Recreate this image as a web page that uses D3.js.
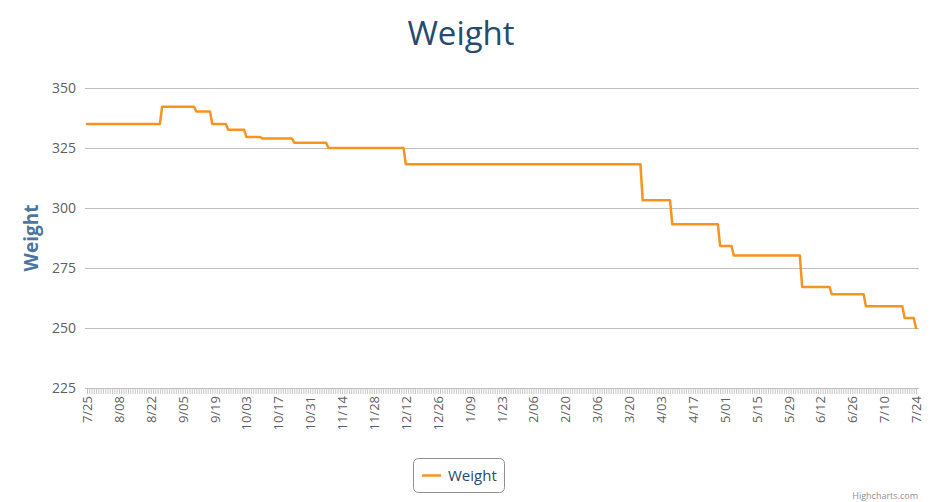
<!DOCTYPE html>
<html>
<head>
<meta charset="utf-8">
<script src="https://cdn.jsdelivr.net/npm/d3@7"></script>
<style>
  body { margin: 0; background: #fff; }
  text { font-family: "Open Sans", sans-serif; }
</style>
</head>
<body>
<svg id="chart" width="942" height="502"></svg>
<script>
// one reading per day, 7/25 .. 7/24
var weights = [
  335, 335, 335, 335, 335, 335, 335, 335, 335, 335,
  335, 335, 335, 335, 335, 335, 335, 335, 335, 335,
  335, 335, 335, 335, 335, 335, 335, 335, 335, 335,
  335, 335, 335,
  342.2, 342.2, 342.2, 342.2, 342.2, 342.2, 342.2, 342.2, 342.2, 342.2,
  342.2, 342.2, 342.2, 342.2, 342.2,
  340.2, 340.2, 340.2, 340.2, 340.2, 340.2, 340.2,
  335, 335, 335, 335, 335, 335, 335,
  332.6, 332.6, 332.6, 332.6, 332.6, 332.6, 332.6, 332.6,
  329.6, 329.6, 329.6, 329.6, 329.6, 329.6, 329.6,
  329, 329, 329, 329, 329, 329, 329, 329, 329, 329,
  329, 329, 329, 329,
  327.2, 327.2, 327.2, 327.2, 327.2, 327.2, 327.2, 327.2, 327.2, 327.2,
  327.2, 327.2, 327.2, 327.2, 327.2,
  325, 325, 325, 325, 325, 325, 325, 325, 325, 325,
  325, 325, 325, 325, 325, 325, 325, 325, 325, 325,
  325, 325, 325, 325, 325, 325, 325, 325, 325, 325,
  325, 325, 325, 325,
  318.2, 318.2, 318.2, 318.2, 318.2, 318.2, 318.2, 318.2, 318.2, 318.2,
  318.2, 318.2, 318.2, 318.2, 318.2, 318.2, 318.2, 318.2, 318.2, 318.2,
  318.2, 318.2, 318.2, 318.2, 318.2, 318.2, 318.2, 318.2, 318.2, 318.2,
  318.2, 318.2, 318.2, 318.2, 318.2, 318.2, 318.2, 318.2, 318.2, 318.2,
  318.2, 318.2, 318.2, 318.2, 318.2, 318.2, 318.2, 318.2, 318.2, 318.2,
  318.2, 318.2, 318.2, 318.2, 318.2, 318.2, 318.2, 318.2, 318.2, 318.2,
  318.2, 318.2, 318.2, 318.2, 318.2, 318.2, 318.2, 318.2, 318.2, 318.2,
  318.2, 318.2, 318.2, 318.2, 318.2, 318.2, 318.2, 318.2, 318.2, 318.2,
  318.2, 318.2, 318.2, 318.2, 318.2, 318.2, 318.2, 318.2, 318.2, 318.2,
  318.2, 318.2, 318.2, 318.2, 318.2, 318.2, 318.2, 318.2, 318.2, 318.2,
  318.2, 318.2, 318.2, 318.2,
  303.2, 303.2, 303.2, 303.2, 303.2, 303.2, 303.2, 303.2, 303.2, 303.2,
  303.2, 303.2, 303.2,
  293.2, 293.2, 293.2, 293.2, 293.2, 293.2, 293.2, 293.2, 293.2, 293.2,
  293.2, 293.2, 293.2, 293.2, 293.2, 293.2, 293.2, 293.2, 293.2, 293.2,
  293.2,
  284.2, 284.2, 284.2, 284.2, 284.2, 284.2,
  280.2, 280.2, 280.2, 280.2, 280.2, 280.2, 280.2, 280.2, 280.2, 280.2,
  280.2, 280.2, 280.2, 280.2, 280.2, 280.2, 280.2, 280.2, 280.2, 280.2,
  280.2, 280.2, 280.2, 280.2, 280.2, 280.2, 280.2, 280.2, 280.2, 280.2,
  267.1, 267.1, 267.1, 267.1, 267.1, 267.1, 267.1, 267.1, 267.1, 267.1,
  267.1, 267.1, 267.1,
  264.1, 264.1, 264.1, 264.1, 264.1, 264.1, 264.1, 264.1, 264.1, 264.1,
  264.1, 264.1, 264.1, 264.1, 264.1,
  259.1, 259.1, 259.1, 259.1, 259.1, 259.1, 259.1, 259.1, 259.1, 259.1,
  259.1, 259.1, 259.1, 259.1, 259.1, 259.1, 259.1,
  254.2, 254.2, 254.2, 254.2, 254.2,
  250
];

var tickLabels = [
  '7/25', '8/08', '8/22', '9/05', '9/19', '10/03', '10/17', '10/31', '11/14',
  '11/28', '12/12', '12/26', '1/09', '1/23', '2/06', '2/20', '3/06', '3/20',
  '4/03', '4/17', '5/01', '5/15', '5/29', '6/12', '6/26', '7/10', '7/24'
];
var tickEvery = 14;
var yTicks = [225, 250, 275, 300, 325, 350];
var seriesName = 'Weight';

var lineColor = '#f7941e';
var plotLeft = 85;
var plotRight = 919;

var svg = d3.select('#chart');

var x = d3.scaleLinear()
  .domain([0, weights.length - 1])
  .range([87, 916]);

var y = d3.scaleLinear()
  .domain([225, 350])
  .range([388, 88]);

// title
svg.append('text')
  .attr('x', 461)
  .attr('y', 45)
  .attr('text-anchor', 'middle')
  .style('font-size', '33px')
  .style('fill', '#274b6d')
  .text('Weight');

// y grid + labels
var yAxis = svg.append('g')
  .attr('transform', 'translate(' + plotLeft + ',0)')
  .call(d3.axisLeft(y)
    .tickValues(yTicks)
    .tickSize(-(plotRight - plotLeft))
    .tickPadding(9));

yAxis.select('.domain').remove();
yAxis.selectAll('line').attr('stroke', '#c0c0c0');
yAxis.selectAll('text')
  .style('font-size', '14px')
  .style('font-family', '"Open Sans", sans-serif')
  .style('fill', '#606060');

svg.append('text')
  .attr('transform', 'translate(31,238) rotate(-90)')
  .attr('text-anchor', 'middle')
  .attr('dy', '0.35em')
  .style('font-size', '19px')
  .style('font-weight', 'bold')
  .style('fill', '#4d759e')
  .text('Weight');

// x axis: a tick for every day
var xTicks = svg.append('g')
  .attr('transform', 'translate(0,388)')
  .call(d3.axisBottom(x)
    .tickValues(d3.range(weights.length))
    .tickSize(6)
    .tickSizeOuter(0)
    .tickFormat(''));

xTicks.select('.domain').remove();
xTicks.selectAll('line').attr('stroke', '#b8b8b8').attr('stroke-width', 0.8);

svg.append('line')
  .attr('x1', plotLeft)
  .attr('x2', plotRight)
  .attr('y1', 388.5)
  .attr('y2', 388.5)
  .attr('stroke', '#c0c0c0');

// x labels, every 14 days
var labelIdx = tickLabels.map(function (d, i) { return i * tickEvery; });

var xLabels = svg.append('g')
  .attr('transform', 'translate(0,388)')
  .call(d3.axisBottom(x)
    .tickValues(labelIdx)
    .tickSize(0)
    .tickFormat(function (d, i) { return tickLabels[i]; }));

xLabels.select('.domain').remove();
xLabels.selectAll('text')
  .attr('transform', 'rotate(-90)')
  .attr('text-anchor', 'end')
  .attr('x', -8)
  .attr('y', 0)
  .attr('dy', '0.35em')
  .style('font-size', '13px')
  .style('font-family', '"Open Sans", sans-serif')
  .style('fill', '#606060');

// series
var line = d3.line()
  .x(function (d, i) { return x(i); })
  .y(function (d) { return y(d); });

svg.append('path')
  .datum(weights)
  .attr('d', line)
  .attr('fill', 'none')
  .attr('stroke', lineColor)
  .attr('stroke-width', 2.5)
  .attr('stroke-linejoin', 'round')
  .attr('stroke-linecap', 'round');

// legend
var legend = svg.append('g');

legend.append('rect')
  .attr('x', 413.5)
  .attr('y', 458.5)
  .attr('width', 91)
  .attr('height', 34)
  .attr('rx', 5)
  .attr('fill', '#fff')
  .attr('stroke', '#909090');

legend.append('line')
  .attr('x1', 422)
  .attr('x2', 441)
  .attr('y1', 475.5)
  .attr('y2', 475.5)
  .attr('stroke', lineColor)
  .attr('stroke-width', 2.5);

legend.append('text')
  .attr('x', 448)
  .attr('y', 481)
  .style('font-size', '15px')
  .style('fill', '#274b6d')
  .text(seriesName);

// credits
svg.append('text')
  .attr('x', 918)
  .attr('y', 499)
  .attr('text-anchor', 'end')
  .style('font-size', '9px')
  .style('fill', '#909090')
  .text('Highcharts.com');
</script>
</body>
</html>
